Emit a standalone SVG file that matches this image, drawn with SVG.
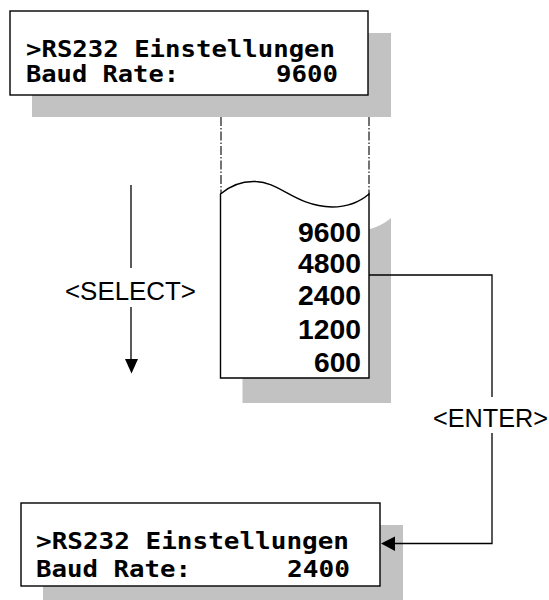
<svg xmlns="http://www.w3.org/2000/svg" width="549" height="600" viewBox="0 0 549 600">
<style>
.shadow{fill:#c2c2c2;stroke:none}
.box{fill:#fff;stroke:#000;stroke-width:1.4}
.lcd{font-family:"DejaVu Sans Mono","Liberation Mono",monospace;font-weight:bold;font-size:23px;fill:#000}
.num{font-family:"Liberation Sans",Arial,sans-serif;font-weight:bold;font-size:27px;fill:#000}
.lbl{font-family:"Liberation Sans",Arial,sans-serif;font-size:25px;fill:#000}
.line{fill:none;stroke:#000;stroke-width:1.3}
.dash{fill:none;stroke:#000;stroke-width:1.1;stroke-dasharray:9 2 1.5 2}
</style>
<rect width="549" height="600" fill="#fff"/>
<g id="guides">
<line class="dash" x1="221" y1="117" x2="221" y2="195"/>
<line class="dash" x1="369" y1="117" x2="369" y2="195"/>
</g>
<g id="display-top">
<rect class="shadow" x="32" y="33" width="359" height="84"/>
<rect class="box" x="10" y="11" width="358" height="84"/>
<text class="lcd" x="26" y="57" textLength="309" lengthAdjust="spacingAndGlyphs">&gt;RS232 Einstellungen</text>
<text class="lcd" x="26" y="82" textLength="153" lengthAdjust="spacingAndGlyphs">Baud Rate:</text>
<text class="lcd" x="276" y="82" textLength="62" lengthAdjust="spacingAndGlyphs">9600</text>
</g>
<g id="list">
<path class="shadow" d="M242.5,218 C254,208 267,205 278,205.5 C302,206 317,230 354,231 C372,231 384,224 391,218 L391,403 L242.5,403 Z"/>
<path class="box" d="M220.5,194 C232,184 245,181 256,181.5 C280,182 295,206 332,207 C350,207 362,200 369,194 L369,378 L220.5,378 Z"/>
<text class="num" x="298" y="242" textLength="63" lengthAdjust="spacingAndGlyphs">9600</text>
<text class="num" x="298" y="273" textLength="63" lengthAdjust="spacingAndGlyphs">4800</text>
<text class="num" x="298" y="305" textLength="63" lengthAdjust="spacingAndGlyphs">2400</text>
<text class="num" x="298" y="339" textLength="63" lengthAdjust="spacingAndGlyphs">1200</text>
<text class="num" x="314" y="372" textLength="47" lengthAdjust="spacingAndGlyphs">600</text>
</g>
<g id="display-bottom">
<rect class="shadow" x="43" y="525" width="360" height="84"/>
<rect class="box" x="21" y="503" width="359" height="83"/>
<text class="lcd" x="36" y="549" textLength="313" lengthAdjust="spacingAndGlyphs">&gt;RS232 Einstellungen</text>
<text class="lcd" x="36" y="577" textLength="155" lengthAdjust="spacingAndGlyphs">Baud Rate:</text>
<text class="lcd" x="287" y="577" textLength="63" lengthAdjust="spacingAndGlyphs">2400</text>
</g>
<g id="connectors">
<line class="line" x1="131" y1="185" x2="131" y2="268"/>
<line class="line" x1="131" y1="307" x2="131" y2="360"/>
<polygon points="125,359 138,359 131.5,373.5" fill="#000"/>
<polyline class="line" points="369,275 492,275 492,397"/>
<polyline class="line" points="492,433 492,543.5 395,543.5"/>
<polygon points="381,543.5 395,536.5 395,551" fill="#000"/>
</g>
<g id="labels">
<text class="lbl" x="65" y="300" textLength="131" lengthAdjust="spacingAndGlyphs">&lt;SELECT&gt;</text>
<text class="lbl" x="433" y="427" textLength="115" lengthAdjust="spacingAndGlyphs">&lt;ENTER&gt;</text>
</g>
</svg>
